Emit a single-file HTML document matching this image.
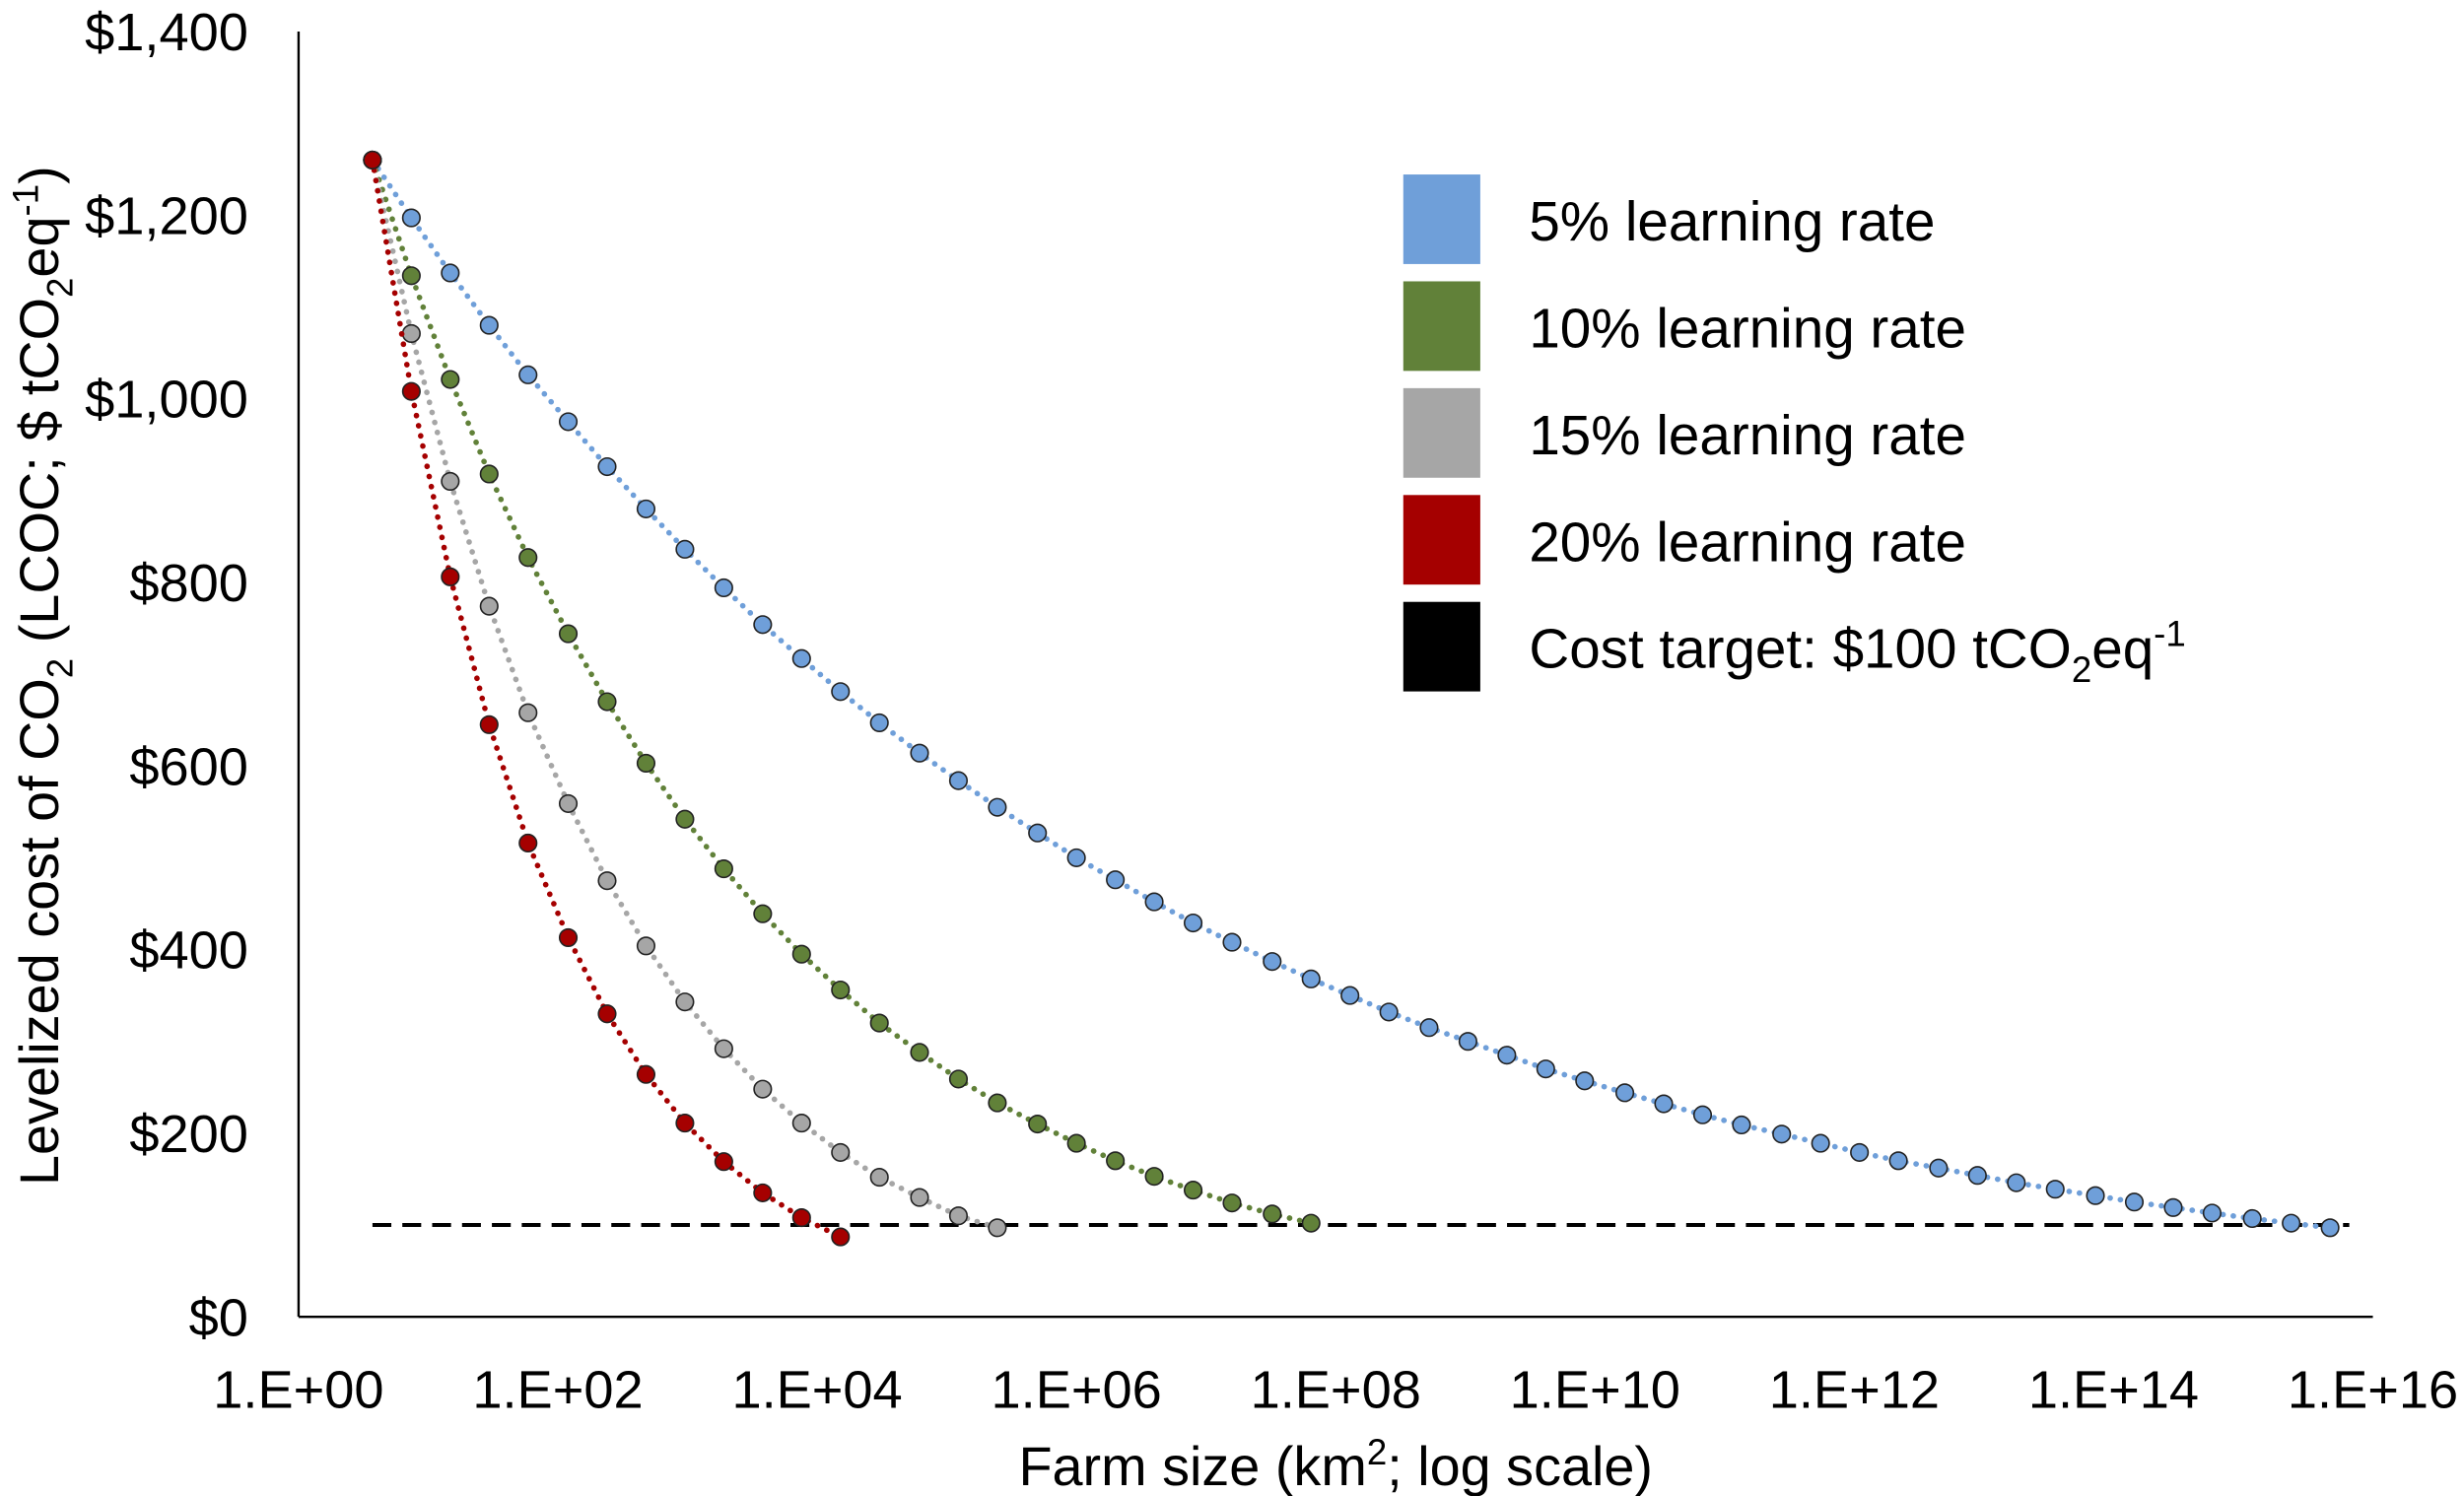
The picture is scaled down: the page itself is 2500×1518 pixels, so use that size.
<!DOCTYPE html>
<html><head><meta charset="utf-8"><style>
html,body{margin:0;padding:0;background:#fff;}
svg{display:block;font-family:"Liberation Sans",Arial,sans-serif;}
</style></head><body>
<svg id="chart" width="2500" height="1518" viewBox="0 0 1568 952" xmlns="http://www.w3.org/2000/svg">
<g id="plot"></g>
</svg>
<script>
const xLog = [0.57,0.87,1.17,1.47,1.77,2.08,2.38,2.68,2.98,3.28,3.58,3.88,4.18,4.48,4.79,5.09,5.39,5.70,6.00,6.30,6.60,6.90,7.20,7.51,7.81,8.11,8.41,8.72,9.02,9.32,9.62,9.92,10.23,10.53,10.83,11.13,11.44,11.74,12.04,12.34,12.65,12.95,13.25,13.55,13.86,14.16,14.46,14.76,15.07,15.37,15.67];
const blueVals = [1260,1197,1137,1080,1026,975,926,880,836,794,754,717,681,647,614,584,555,527,500,476,452,429,408,387,368,350,332,315,300,285,270,257,244,232,220,209,199,189,179,170,162,154,146,139,132,125,119,113,107,102,97];
const greenVals = [1260,1134,1021,918,827,744,670,603,542,488,439,395,356,320,288,259,233,210,189,170,153,138,124,112,102];
const grayVals = [1260,1071,910,774,658,559,475,404,343,292,248,211,179,152,130,110,97];
const redVals = [1260,1008,806,645,516,413,330,264,211,169,135,108,87];
const target = 100;
const yTicks = [0,200,400,600,800,1000,1200,1400];
const yTickLabels = ["$0","$200","$400","$600","$800","$1,000","$1,200","$1,400"];
const xTicks = [0,2,4,6,8,10,12,14,16];
const xTickLabels = ["1.E+00","1.E+02","1.E+04","1.E+06","1.E+08","1.E+10","1.E+12","1.E+14","1.E+16"];

const NS="http://www.w3.org/2000/svg";
const g=document.getElementById('plot');
const X0=190,X1=1510,Y0=838,Y1=20;
const xs=v=>X0+(v-0)/16*(X1-X0);
const ys=v=>Y0-(v/1400)*(Y0-Y1);
function mk(t,a,parent){const e=document.createElementNS(NS,t);for(const k in a)e.setAttribute(k,a[k]);(parent||g).appendChild(e);return e;}

let ax=mk('line',{x1:X0,y1:Y1,x2:X0,y2:Y0,stroke:'#000','stroke-width':1.5});


ax=mk('line',{x1:X0,y1:Y0,x2:X1,y2:Y0,stroke:'#000','stroke-width':1.5});



yTicks.forEach((v,i)=>{const t=mk('text',{x:158,y:ys(v)+12,'text-anchor':'end','font-size':34,fill:'#000'});t.textContent=yTickLabels[i];

});
xTicks.forEach((v,i)=>{const t=mk('text',{x:xs(v),y:896,'text-anchor':'middle','font-size':34,fill:'#000'});t.textContent=xTickLabels[i];

});

const tl=mk('line',{x1:xs(xLog[0]),x2:1495,y1:ys(target),y2:ys(target),stroke:'#000','stroke-width':2.5,'stroke-dasharray':'12,7'});



function series(vals,color,name){
  const sg=mk('g',{});
  
  
  const pts=vals.map((v,i)=>xs(xLog[i])+','+ys(v)).join(' ');
  const pl=mk('polyline',{points:pts,fill:'none',stroke:color,'stroke-width':3.5,'stroke-dasharray':'0.1,6.5','stroke-linecap':'round'},sg);
  
  
  vals.forEach((v,i)=>{const c=mk('circle',{cx:xs(xLog[i]),cy:ys(v),r:5.5,fill:color,stroke:'#222','stroke-width':1},sg);
    
    });
}
series(blueVals,'#6f9fd9','blue-5pct');
series(greenVals,'#618139','green-10pct');
series(grayVals,'#a6a6a6','gray-15pct');
series(redVals,'#a50000','red-20pct');
</script>
<svg style="position:absolute;left:0;top:0" width="2500" height="1518" viewBox="0 0 1568 952" xmlns="http://www.w3.org/2000/svg">
<g font-size="35.5" font-family="Liberation Sans, Arial, sans-serif">
<rect x="893" y="111" width="49" height="57" fill="#6f9fd9"/>
<text x="973" y="153">5% learning rate</text>
<rect x="893" y="179" width="49" height="57" fill="#618139"/>
<text x="973" y="221">10% learning rate</text>
<rect x="893" y="247" width="49" height="57" fill="#a6a6a6"/>
<text x="973" y="289">15% learning rate</text>
<rect x="893" y="315" width="49" height="57" fill="#a50000"/>
<text x="973" y="357">20% learning rate</text>
<rect x="893" y="383" width="49" height="57" fill="#000"/>
<text x="973" y="425">Cost target: $100 tCO<tspan font-size="23" dy="9">2</tspan><tspan dy="-9">eq</tspan><tspan font-size="23" dy="-14">-1</tspan></text>
</g>
<text x="850" y="945" text-anchor="middle" font-size="35" font-family="Liberation Sans, Arial, sans-serif">Farm size (km<tspan font-size="23" dy="-13">2</tspan><tspan dy="13">; log scale)</tspan></text>
<text transform="translate(37,430) rotate(-90)" text-anchor="middle" font-size="35" font-family="Liberation Sans, Arial, sans-serif">Levelized cost of CO<tspan font-size="23" dy="9">2</tspan><tspan dy="-9"> (LCOC; $ tCO</tspan><tspan font-size="23" dy="9">2</tspan><tspan dy="-9">eq</tspan><tspan font-size="23" dy="-13">-1</tspan><tspan dy="13">)</tspan></text>
</svg>
</body></html>
